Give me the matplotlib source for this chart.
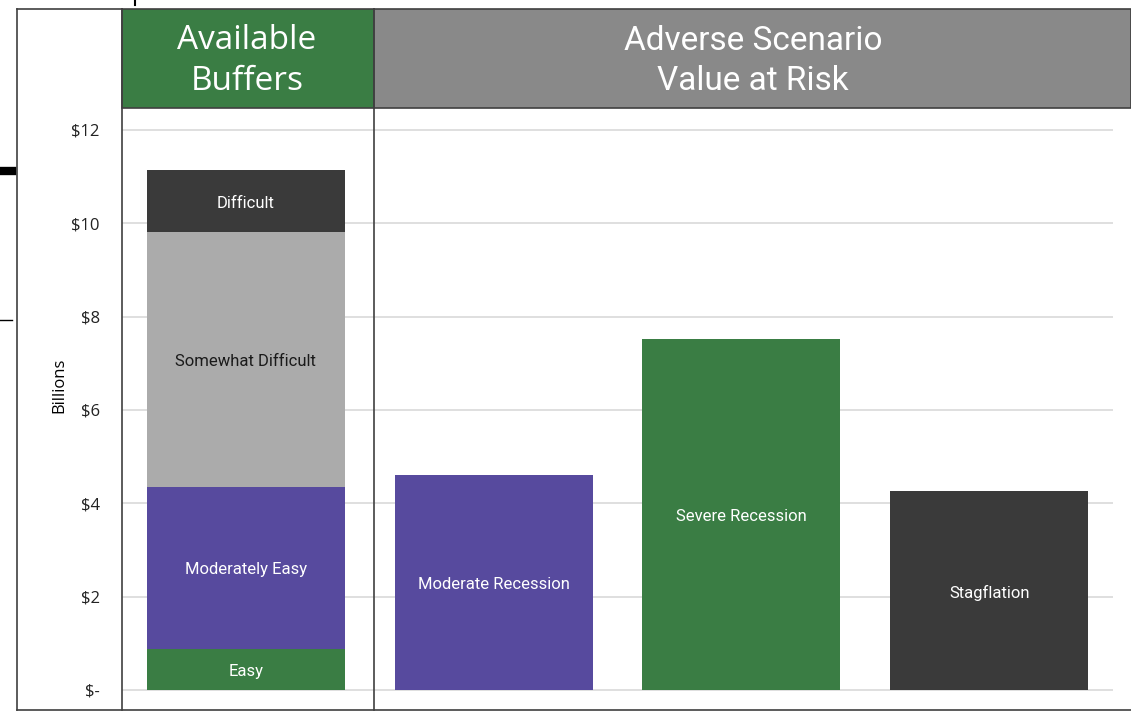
import matplotlib
matplotlib.use("Agg")
import matplotlib.pyplot as plt
from matplotlib.patches import Rectangle
from matplotlib.lines import Line2D

# ---- data ----
buffer_labels = ["Easy", "Moderately Easy", "Somewhat Difficult", "Difficult"]
buffer_values = [0.88, 3.47, 5.46, 1.33]
buffer_colors = ["#3A7D44", "#574A9E", "#ABABAB", "#3A3A3A"]
buffer_text_colors = ["white", "white", "#1a1a1a", "white"]

scenario_labels = ["Moderate Recession", "Severe Recession", "Stagflation"]
scenario_values = [4.61, 7.52, 4.26]
scenario_colors = ["#574A9E", "#3A7D44", "#3A3A3A"]

yticks = [0, 2, 4, 6, 8, 10, 12]
ytick_labels = ["$-", "$2", "$4", "$6", "$8", "$10", "$12"]

header_left = "Available\nBuffers"
header_right = "Adverse Scenario\nValue at Risk"

W, H = 1131, 712
fig = plt.figure(figsize=(W / 100, H / 100), dpi=100)

def fx(px):
    return px / W

def fy(py):
    return 1 - py / H

ax = fig.add_axes([fx(122), fy(710), fx(1113) - fx(122), fy(108) - fy(710)])
ax.set_xlim(-0.5, 3.5)
ax.set_ylim(-0.43, 12.47)
for s in ax.spines.values():
    s.set_visible(False)
ax.set_xticks([])
ax.set_yticks(yticks)
ax.set_yticklabels(ytick_labels, fontsize=12, family="Open Sans", color="#222222")
ax.tick_params(axis="y", length=0, pad=16)
ax.grid(axis="y", color="#D9D9D9", linewidth=1.2)
ax.set_axisbelow(True)
ax.set_ylabel("Billions", fontsize=12, family="Open Sans")
ax.yaxis.set_label_coords(-0.055, 0.54)

bw = 0.8
bottom = 0
for lab, v, c, tc in zip(buffer_labels, buffer_values, buffer_colors, buffer_text_colors):
    ax.bar(0, v, bottom=bottom, width=bw, color=c, zorder=3)
    ax.annotate(lab, (0, bottom + v / 2), xytext=(0, -2), textcoords="offset pixels",
                ha="center", va="center", color=tc, fontsize=12, family="Roboto", zorder=4)
    bottom += v

for i, (lab, v, c) in enumerate(zip(scenario_labels, scenario_values, scenario_colors)):
    ax.bar(i + 1, v, width=bw, color=c, zorder=3)
    ax.annotate(lab, (i + 1, v / 2), xytext=(0, -2), textcoords="offset pixels",
                ha="center", va="center", color="white", fontsize=12, family="Roboto", zorder=4)

# headers
fig.patches.append(Rectangle((fx(122), fy(108)), fx(374) - fx(122), fy(9) - fy(108),
                             transform=fig.transFigure, facecolor="#3A7D44",
                             edgecolor="#404040", linewidth=1.2, zorder=1))
fig.patches.append(Rectangle((fx(374), fy(108)), fx(1131) - fx(374), fy(9) - fy(108),
                             transform=fig.transFigure, facecolor="#898989",
                             edgecolor="#404040", linewidth=1.2, zorder=1))
fig.text(fx(247), fy(61), header_left, ha="center", va="center", color="white",
         fontsize=24, family="Open Sans", linespacing=1.3)
fig.text(fx(753), fy(61), header_right, ha="center", va="center", color="white",
         fontsize=24, family="Roboto", linespacing=1.3)

# frame lines
lc = "#404040"
for x0, y0, x1, y1 in [(17, 9, 122, 9), (17, 9, 17, 710), (17, 710, 1131, 710),
                       (122, 9, 122, 710), (374, 9, 374, 710)]:
    fig.add_artist(Line2D([fx(x0), fx(x1)], [fy(y0), fy(y1)], color=lc, linewidth=1.2,
                          transform=fig.transFigure))
# stray marks on left
fig.add_artist(Line2D([0, fx(12)], [fy(171), fy(171)], color="black", linewidth=6,
                      transform=fig.transFigure))
fig.add_artist(Line2D([0, fx(12)], [fy(320), fy(320)], color="black", linewidth=1,
                      transform=fig.transFigure))
fig.add_artist(Line2D([fx(135), fx(135)], [fy(0), fy(5)], color="black", linewidth=1.5,
                      transform=fig.transFigure))

fig.savefig("out.png", dpi=100)
